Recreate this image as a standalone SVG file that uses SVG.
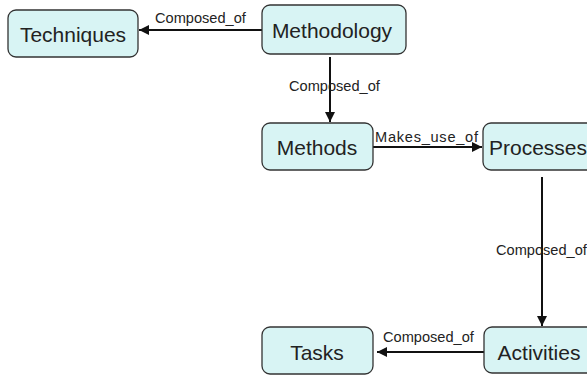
<svg xmlns="http://www.w3.org/2000/svg" width="587" height="375" viewBox="0 0 587 375">
<defs>
<style>
.node rect{fill:#d8f4f4;stroke:#333;stroke-width:1.3}
.node text{font-family:"Liberation Sans",Arial,sans-serif;font-size:21px;fill:#222;text-anchor:middle}
.conn line{stroke:#111;stroke-width:2}
.lbl{font-family:"Liberation Sans",Arial,sans-serif;font-size:14.6px;fill:#222}
</style>
<marker id="ah" viewBox="0 0 10 10" refX="10" refY="5" markerWidth="5" markerHeight="5" orient="auto" markerUnits="strokeWidth">
<path d="M0,0L10,5L0,10z" fill="#111"/>
</marker>
</defs>
<g id="connectors" class="conn">
<line x1="262" y1="30" x2="139" y2="30" marker-end="url(#ah)"/>
<line x1="330" y1="57" x2="330" y2="122" marker-end="url(#ah)"/>
<line x1="373" y1="147" x2="482" y2="147" marker-end="url(#ah)"/>
<line x1="542" y1="177" x2="542" y2="326" marker-end="url(#ah)"/>
<line x1="484" y1="352" x2="377" y2="352" marker-end="url(#ah)"/>
<text class="lbl" x="155" y="23">Composed_of</text>
<text class="lbl" x="289" y="91">Composed_of</text>
<text class="lbl" x="375" y="142" textLength="103">Makes_use_of</text>
<text class="lbl" x="496" y="255">Composed_of</text>
<text class="lbl" x="383" y="342">Composed_of</text>
</g>
<g id="techniques" class="node"><rect x="8" y="10" width="130" height="47" rx="8"/><text x="73" y="42">Techniques</text></g>
<g id="methodology" class="node"><rect x="262" y="5" width="144" height="49" rx="8"/><text x="332" y="38">Methodology</text></g>
<g id="methods" class="node"><rect x="262" y="123" width="111" height="47" rx="8"/><text x="317" y="155">Methods</text></g>
<g id="processes" class="node"><rect x="483" y="123" width="112" height="47" rx="8"/><text x="538" y="155">Processes</text></g>
<g id="activities" class="node"><rect x="484" y="327" width="112" height="46" rx="8"/><text x="539" y="360">Activities</text></g>
<g id="tasks" class="node"><rect x="262" y="327" width="111" height="47" rx="8"/><text x="317" y="360">Tasks</text></g>
</svg>
